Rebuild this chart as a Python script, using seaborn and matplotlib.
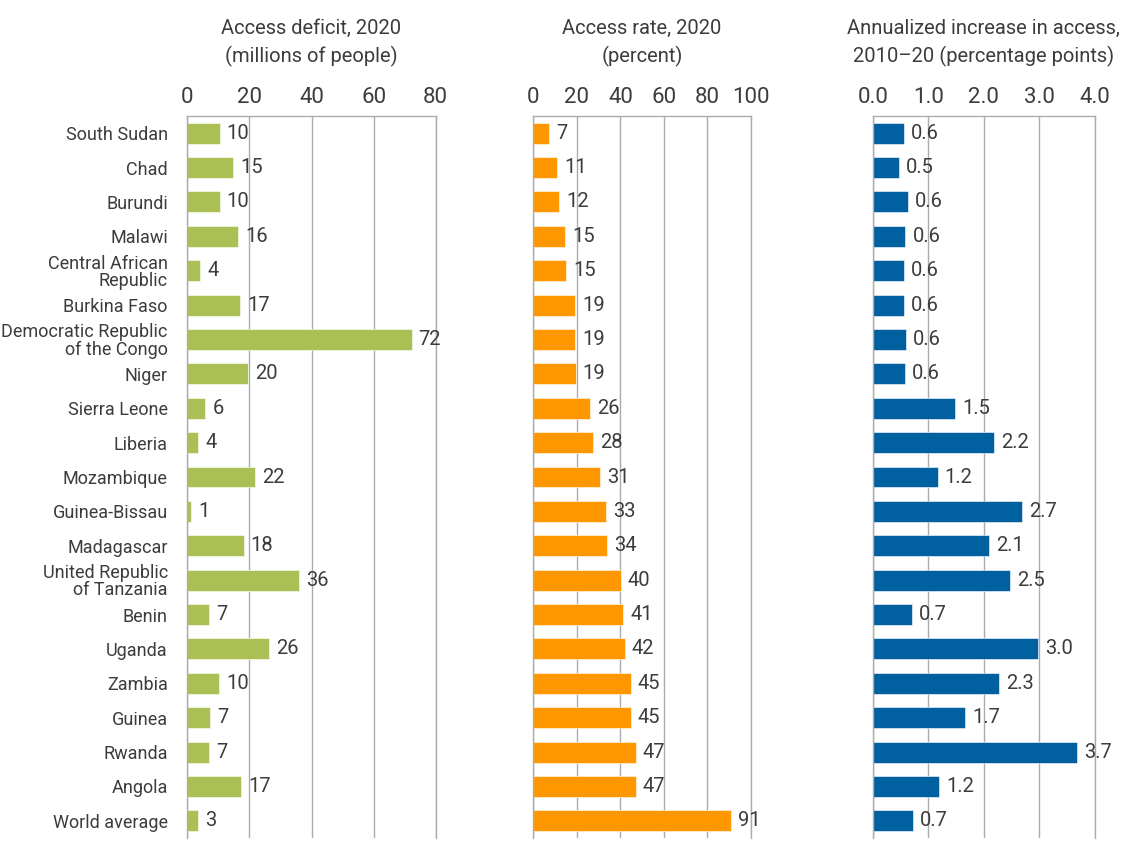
import matplotlib
matplotlib.use("Agg")
import matplotlib.pyplot as plt
import seaborn as sns
import pandas as pd

countries = [
    "South Sudan", "Chad", "Burundi", "Malawi", "Central African\nRepublic",
    "Burkina Faso", "Democratic Republic\nof the Congo", "Niger", "Sierra Leone",
    "Liberia", "Mozambique", "Guinea-Bissau", "Madagascar",
    "United Republic\nof Tanzania", "Benin", "Uganda", "Zambia", "Guinea",
    "Rwanda", "Angola", "World average",
]
deficit = [10.4, 14.7, 10.4, 16.4, 4.2, 17.0, 72.3, 19.6, 5.8, 3.5, 21.8,
           1.3, 18.2, 36.0, 7.0, 26.4, 10.3, 7.4, 7.0, 17.4, 3.4]
rate = [7.2, 11.0, 11.9, 14.6, 15.0, 19.2, 19.2, 19.4, 26.0, 27.6, 30.6,
        33.4, 33.8, 40.2, 41.4, 42.0, 44.9, 44.8, 47.0, 47.0, 90.8]
increase = [0.57, 0.47, 0.63, 0.59, 0.56, 0.56, 0.60, 0.58, 1.48, 2.19, 1.17,
            2.69, 2.10, 2.47, 0.70, 2.97, 2.27, 1.66, 3.68, 1.20, 0.73]

titles = ["Access deficit, 2020\n(millions of people)",
          "Access rate, 2020\n(percent)",
          "Annualized increase in access,\n2010\u201320 (percentage points)"]
colors = ["#AAC055", "#FF9800", "#0060A0"]
xlims = [(0, 80), (0, 100), (0, 4.0)]
xticks = [[0, 20, 40, 60, 80], [0, 20, 40, 60, 80, 100], [0.0, 1.0, 2.0, 3.0, 4.0]]
tick_fmt = ["{:.0f}", "{:.0f}", "{:.1f}"]
label_fmt = ["{:.0f}", "{:.0f}", "{:.1f}"]
series = [deficit, rate, increase]

sns.set_theme(style="white")
plt.rcParams["font.family"] = ["Roboto", "DejaVu Sans"]
plt.rcParams["font.weight"] = "normal"
TXT = "#3c3c3c"
GRID = "#acacac"

fig = plt.figure(figsize=(11.28, 8.44), dpi=100)
W, H = 1128.0, 844.0
lefts = [187.3, 533.3, 872.7]
rights = [435.7, 751.0, 1095.0]
top_px, bot_px = 116.0, 838.0

for i in range(3):
    ax = fig.add_axes([lefts[i] / W, 1 - bot_px / H,
                       (rights[i] - lefts[i]) / W, (bot_px - top_px) / H])
    df = pd.DataFrame({"country": countries, "value": series[i]})
    sns.barplot(data=df, x="value", y="country", orient="h", color=colors[i],
                saturation=1, width=0.61, ax=ax, edgecolor="white",
                linewidth=0.4)
    ax.set_xlim(*xlims[i])
    ax.set_ylim(len(countries) - 0.5, -0.5)
    ax.set_xticks(xticks[i])
    ax.set_xticklabels([tick_fmt[i].format(t) for t in xticks[i]])
    ax.xaxis.tick_top()
    ax.tick_params(axis="x", length=0, pad=6, labelsize=16, labelcolor=TXT)
    ax.set_xlabel("")
    ax.set_ylabel("")
    ax.grid(axis="x", color=GRID, linewidth=1.0)
    ax.grid(axis="y", visible=False)
    ax.set_axisbelow(True)
    ax.spines["bottom"].set_visible(False)
    for side in ["top", "left", "right"]:
        ax.spines[side].set_visible(True)
        ax.spines[side].set_color(GRID)
        ax.spines[side].set_linewidth(1.0)
    if i == 0:
        ax.tick_params(axis="y", length=0, pad=14, labelsize=13, labelcolor=TXT)
        for lab in ax.get_yticklabels():
            lab.set_linespacing(0.95)
    else:
        ax.set_yticklabels([])
        ax.tick_params(axis="y", length=0)
    ax.bar_label(ax.containers[0],
                 labels=[label_fmt[i].format(v) for v in series[i]],
                 padding=5, fontsize=14.5, color=TXT)
    cx = (lefts[i] + rights[i]) / 2 / W
    fig.text(cx, 1 - 43 / H, titles[i], ha="center", va="center",
             fontsize=14.5, color=TXT, linespacing=1.45)

fig.savefig("out.png", dpi=100)
